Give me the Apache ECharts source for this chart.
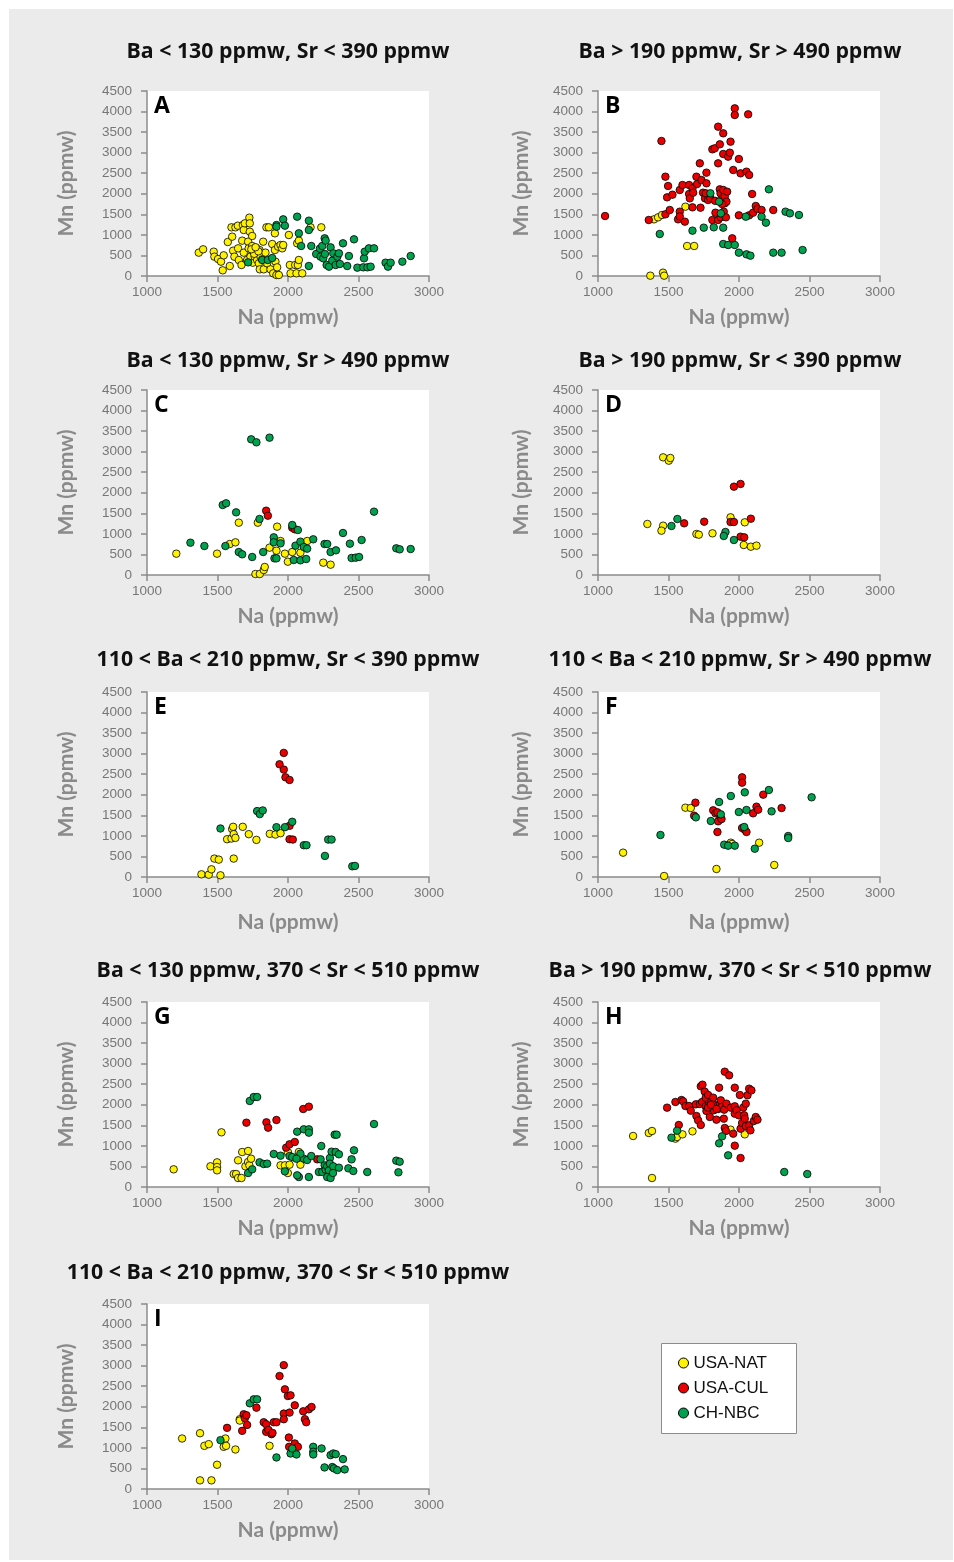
<!DOCTYPE html>
<html><head><meta charset="utf-8">
<script src="https://cdn.jsdelivr.net/npm/echarts@6/dist/echarts.min.js"></script>
<style>
html,body{margin:0;padding:0;background:#fff;}
#bg{position:absolute;left:9px;top:9px;width:944px;height:1551px;background:#ebebeb;}
#chart{position:absolute;left:0;top:0;width:954px;height:1562px;}
</style></head><body><div id="bg"></div><div id="chart"></div>
<script>
// ---------- DATA ----------
const groups = ['USA-NAT', 'USA-CUL', 'CH-NBC'];
const xTicks = [1000, 1500, 2000, 2500, 3000];
const yTicks = [0, 500, 1000, 1500, 2000, 2500, 3000, 3500, 4000, 4500];
const panelLetters = ['A','B','C','D','E','F','G','H','I'];
const panelTitles = [
  'Ba < 130 ppmw, Sr < 390 ppmw',
  'Ba > 190 ppmw, Sr > 490 ppmw',
  'Ba < 130 ppmw, Sr > 490 ppmw',
  'Ba > 190 ppmw, Sr < 390 ppmw',
  '110 < Ba < 210 ppmw, Sr < 390 ppmw',
  '110 < Ba < 210 ppmw, Sr > 490 ppmw',
  'Ba < 130 ppmw, 370 < Sr < 510 ppmw',
  'Ba > 190 ppmw, 370 < Sr < 510 ppmw',
  '110 < Ba < 210 ppmw, 370 < Sr < 510 ppmw'
];

const A_NAT = [[1367,568],[1398,649],[1473,592],[1478,470],[1504,413],[1525,349],[1544,503],[1537,138],[1587,243],[1573,827],[1604,957],[1599,1184],[1627,1184],[1611,616],[1620,470],[1646,673],[1644,1224],[1651,389],[1670,268],[1675,860],[1680,1240],[1686,1119],[1686,568],[1694,1281],[1710,389],[1717,835],[1721,673],[1726,1419],[1729,1281],[1729,1078],[1734,470],[1746,730],[1746,973],[1750,324],[1757,592],[1764,470],[1776,673],[1781,389],[1793,308],[1798,632],[1800,162],[1805,470],[1817,405],[1824,835],[1828,162],[1840,568],[1847,1184],[1852,308],[1864,1184],[1876,162],[1888,778],[1895,65],[1907,1038],[1907,632],[1911,349],[1918,24],[1923,211],[1935,24],[1930,714],[1947,754],[1959,673],[1966,754],[2006,997],[2013,268],[2018,65],[2051,268],[2060,65],[2070,268],[2077,389],[2065,795],[2077,860],[2101,65],[2160,1184],[2236,1184],[1760,540],[1790,600],[1740,650],[1770,700]];
const A_CUL = [];
const A_NBC = [[1717,332],[1817,389],[1857,389],[1888,438],[1918,1240],[1918,1200],[1966,1378],[1978,1224],[2065,1443],[2077,1038],[2093,730],[2148,1346],[2148,1119],[2148,243],[2165,730],[2200,535],[2226,665],[2231,470],[2243,730],[2250,430],[2260,916],[2267,860],[2262,535],[2274,268],[2291,227],[2302,697],[2314,373],[2321,551],[2338,268],[2350,470],[2361,551],[2368,292],[2390,795],[2420,243],[2432,486],[2468,892],[2492,203],[2534,211],[2539,430],[2544,592],[2563,211],[2574,673],[2586,227],[2610,673],[2692,324],[2709,227],[2728,324],[2811,349],[2870,486]];

const B_NAT = [[1371,8],[1397,1378],[1426,1427],[1454,1484],[1461,81],[1469,8],[1620,1686],[1632,730],[1682,730]];
const B_CUL = [[1050,1459],[1360,1362],[1450,3284],[1478,2416],[1478,1500],[1497,2189],[1490,1913],[1509,1605],[1528,1978],[1580,2092],[1599,2213],[1580,1565],[1568,1378],[1616,1322],[1646,2213],[1646,1995],[1651,1889],[1670,2132],[1675,2027],[1670,1670],[1698,2416],[1703,2238],[1722,2741],[1734,2335],[1727,1662],[1745,2027],[1759,1889],[1764,2011],[1769,2254],[1769,2514],[1781,1849],[1797,1889],[1811,1362],[1811,3081],[1828,3105],[1833,1540],[1852,3632],[1852,2741],[1852,1362],[1864,3203],[1864,2108],[1869,2011],[1871,1427],[1881,1889],[1888,3470],[1888,2968],[1888,2092],[1892,1565],[1899,1930],[1899,1768],[1907,1427],[1916,2051],[1911,1808],[1923,2903],[1935,3000],[1940,3268],[1952,916],[1959,2578],[1970,4078],[1970,3916],[1999,2846],[1999,1476],[2011,2497],[2053,2538],[2065,3932],[2072,2457],[2072,1476],[2093,1995],[2100,1540],[2119,1703],[2131,1630],[2160,1605],[2243,1605],[1580,1450],[1880,1750],[1830,1830]];
const B_NBC = [[1438,1022],[1670,1103],[1750,1176],[1797,2011],[1821,1184],[1859,1808],[1871,1524],[1888,1176],[1888,778],[1923,754],[1970,754],[1999,568],[2048,1443],[2053,527],[2081,495],[2160,1443],[2191,1297],[2212,2108],[2243,568],[2302,568],[2330,1565],[2361,1524],[2425,1484],[2451,632]];

const C_NAT = [[1208,519],[1497,519],[1587,754],[1627,795],[1651,1273],[1769,24],[1786,1273],[1800,24],[1828,122],[1835,195],[1869,665],[1923,1176],[1918,592],[1947,827],[1978,519],[1999,324],[2030,559],[2088,543],[2136,827],[2250,300],[2302,251]];
const C_CUL = [[1845,1565],[1857,1443],[2030,1151],[2048,1111]];
const C_NBC = [[1308,786],[1407,705],[1537,1703],[1561,1743],[1556,705],[1632,1524],[1651,559],[1675,503],[1746,438],[1739,3300],[1776,3227],[1798,1362],[1824,559],[1869,3341],[1899,916],[1899,795],[1904,405],[1918,405],[1947,770],[2030,1216],[2041,365],[2053,714],[2070,1095],[2088,811],[2088,357],[2112,681],[2129,389],[2136,641],[2179,868],[2259,754],[2278,754],[2302,559],[2340,600],[2390,1022],[2439,762],[2451,414],[2480,422],[2504,438],[2522,851],[2610,1541],[2768,649],[2792,624],[2870,632]];

const D_NAT = [[1350,1241],[1462,2862],[1502,2781],[1513,2846],[1462,1200],[1450,1078],[1698,997],[1715,981],[1812,1014],[1940,1403],[2041,1281],[2034,730],[2084,689],[2124,714]];
const D_CUL = [[1611,1257],[1753,1297],[1940,1289],[1964,1289],[1964,2149],[2011,2214],[2011,932],[2037,916],[2084,1370]];
const D_NBC = [[1563,1362],[1521,1192],[1904,1046],[1892,949],[1964,851]];

const E_NAT = [[1386,65],[1438,57],[1457,187],[1478,448],[1509,423],[1521,41],[1568,919],[1599,936],[1604,1164],[1611,1221],[1615,1042],[1627,952],[1615,448],[1679,1221],[1722,1042],[1776,903],[1871,1050],[1911,1033],[1947,1066]];
const E_CUL = [[1970,3019],[1940,2742],[1970,2612],[1982,2425],[2011,2360],[2011,1245],[2011,919],[2034,911]];
const E_NBC = [[1521,1180],[1781,1603],[1800,1530],[1821,1619],[1918,1212],[1978,1212],[2030,1343],[2112,773],[2131,773],[2285,911],[2309,911],[2262,513],[2456,260],[2475,269]];

const F_NAT = [[1178,592],[1469,24],[1620,1686],[1658,1678],[1840,195],[1942,835],[1951,803],[2143,835],[2250,292]];
const F_CUL = [[1691,1808],[1682,1492],[1817,1622],[1833,1549],[1847,1573],[1864,1395],[1852,1354],[1876,1411],[1847,1095],[2022,2424],[2022,2295],[2022,1192],[2041,1151],[2053,1095],[2100,1549],[2124,1711],[2136,1638],[2172,2003],[2302,1678]];
const F_NBC = [[1443,1022],[1694,1451],[1800,1362],[1859,1824],[1871,1524],[1942,1970],[1895,787],[1923,762],[1970,762],[1999,1581],[2037,1216],[2041,2059],[2053,1630],[2112,689],[2212,2116],[2231,1597],[2349,997],[2349,949],[2515,1938]];

const G_NAT = [[1189,430],[1450,503],[1497,600],[1497,486],[1497,405],[1528,1330],[1615,316],[1632,316],[1646,219],[1670,219],[1646,649],[1675,851],[1698,503],[1717,876],[1717,608],[1726,527],[1738,689],[1947,527],[1978,527],[1999,340],[2011,543],[1999,851],[2077,851],[2088,543]];
const G_CUL = [[1705,1565],[1847,1573],[1859,1443],[1918,1630],[1987,957],[2011,1038],[2048,1095],[2108,1897],[2148,1954],[2207,673]];
const G_NBC = [[1717,340],[1746,430],[1729,2092],[1757,2189],[1781,2189],[1798,600],[1828,559],[1852,568],[1899,803],[1947,762],[2011,754],[2030,730],[1978,381],[2065,1346],[2077,243],[2065,284],[2112,1403],[2148,1403],[2148,1322],[2148,243],[2112,689],[2136,657],[2165,754],[2088,811],[2060,689],[2236,997],[2231,673],[2219,365],[2243,365],[2260,527],[2267,422],[2278,503],[2290,405],[2278,243],[2302,219],[2297,705],[2309,859],[2297,568],[2321,503],[2319,340],[2331,1273],[2345,1273],[2338,851],[2361,795],[2361,470],[2428,454],[2451,673],[2463,389],[2468,892],[2562,365],[2610,1532],[2768,641],[2792,616],[2783,357]];

const H_NAT = [[1249,1241],[1360,1314],[1383,1362],[1383,219],[1549,1176],[1561,1216],[1599,1281],[1670,1354],[1940,1395],[2041,1281]];
const H_CUL = [[1490,1930],[1549,2068],[1573,1508],[1592,2116],[1604,2084],[1620,1970],[1646,1970],[1658,1857],[1694,2011],[1698,1727],[1710,1622],[1722,2019],[1729,1508],[1729,2449],[1741,2489],[1738,2068],[1757,2319],[1764,2173],[1764,1962],[1769,1849],[1781,2238],[1786,1987],[1793,1703],[1805,2092],[1817,2173],[1821,1865],[1828,1987],[1840,1638],[1852,1897],[1859,2416],[1864,2027],[1871,2108],[1876,1946],[1892,1662],[1895,1881],[1899,1435],[1899,2805],[1911,2027],[1907,1362],[1930,2716],[1942,1930],[1959,1297],[1970,2416],[1970,1962],[1970,1784],[1970,1005],[1982,1865],[1999,1743],[2006,2238],[2011,1419],[2011,705],[2022,1557],[2030,1930],[2037,1743],[2041,1662],[2048,1484],[2048,2027],[2060,2230],[2072,2392],[2072,1500],[2081,1378],[2088,2351],[2105,1605],[2119,1703],[2131,1638],[1780,1930],[1800,2000],[1840,1900]];
const H_NBC = [[1521,1200],[1561,1370],[1880,1232],[1859,1062],[1923,770],[2321,365],[2484,316]];

const I_NAT = [[1249,1228],[1376,1357],[1376,210],[1407,1050],[1438,1091],[1457,210],[1497,590],[1556,1228],[1544,1026],[1561,1050],[1627,961],[1658,1697],[1658,1664],[1869,1050]];
const I_CUL = [[1568,1487],[1675,1414],[1686,1818],[1694,1721],[1705,1794],[1710,1559],[1776,1979],[1828,1624],[1845,1575],[1845,1390],[1861,1438],[1883,1333],[1890,1365],[1899,1624],[1918,1624],[1940,2747],[1970,3013],[1970,1834],[1970,1697],[1978,2424],[1999,2262],[2018,2278],[2011,1858],[2006,1252],[2008,1026],[2048,2036],[2048,1107],[2070,1026],[2108,1890],[2120,1697],[2129,1624],[2148,1939],[2167,1995]];
const I_NBC = [[1521,1188],[1729,2084],[1757,2181],[1781,2181],[1918,768],[2018,864],[2030,986],[2060,840],[2179,1026],[2179,905],[2179,840],[2238,986],[2259,525],[2302,824],[2314,533],[2321,864],[2338,848],[2326,501],[2349,460],[2390,727],[2402,477]];

const panelData = [
  [A_NAT, A_CUL, A_NBC], [B_NAT, B_CUL, B_NBC], [C_NAT, C_CUL, C_NBC],
  [D_NAT, D_CUL, D_NBC], [E_NAT, E_CUL, E_NBC], [F_NAT, F_CUL, F_NBC],
  [G_NAT, G_CUL, G_NBC], [H_NAT, H_CUL, H_NBC], [I_NAT, I_CUL, I_NBC]
];

// ---------- LAYOUT / STYLE ----------
const colors = ['#fff200', '#ea0000', '#00a24f'];
const colLeft = [147, 598];
const rowTop = [91, 390, 692, 1002, 1304];
const titleY = [52, 361, 660, 971, 1273];
const xNameGap = [31, 31, 35, 31, 31];
const plotW = 282, plotH = 185;
const titleFont = '"Open Sans", Lato, sans-serif';
const nameFont = 'Lato, "Open Sans", sans-serif';
const tickFont = '"Liberation Sans", Arial, sans-serif';

const grids = [], xAxes = [], yAxes = [], series = [], graphics = [];
panelData.forEach((pd, i) => {
  const col = i % 2, row = Math.floor(i / 2);
  const left = colLeft[col], top = rowTop[row];
  grids.push({left: left, top: top, width: plotW, height: plotH, show: true,
    backgroundColor: '#ffffff', borderWidth: 0});
  xAxes.push({gridIndex: i, type: 'value', min: xTicks[0], max: xTicks[xTicks.length - 1], interval: 500,
    name: 'Na (ppmw)', nameLocation: 'middle', nameGap: xNameGap[row],
    nameTextStyle: {fontFamily: nameFont, fontWeight: 'bold', fontSize: 21, color: '#8a8a8a'},
    axisLine: {show: true, onZero: false, lineStyle: {color: '#8c8c8c', width: 1.5}},
    axisTick: {show: true, length: 6, lineStyle: {color: '#8c8c8c', width: 1.5}},
    axisLabel: {color: '#777', fontFamily: tickFont, fontSize: 13.5, margin: 9,
      showMinLabel: true, showMaxLabel: true, formatter: v => String(v)},
    splitLine: {show: false}});
  yAxes.push({gridIndex: i, type: 'value', min: yTicks[0], max: yTicks[yTicks.length - 1], interval: 500,
    name: 'Mn (ppmw)', nameLocation: 'middle', nameRotate: 90, nameGap: col === 0 ? 70 : 66,
    nameTextStyle: {fontFamily: nameFont, fontWeight: 'bold', fontSize: 21, color: '#8a8a8a'},
    axisLine: {show: true, onZero: false, lineStyle: {color: '#8c8c8c', width: 1.5}},
    axisTick: {show: true, length: 6, lineStyle: {color: '#8c8c8c', width: 1.5}},
    axisLabel: {color: '#777', fontFamily: tickFont, fontSize: 13.5, margin: 15,
      showMinLabel: true, showMaxLabel: true, formatter: v => String(v)},
    splitLine: {show: false}});
  pd.forEach((arr, g) => {
    series.push({type: 'scatter', name: groups[g], xAxisIndex: i, yAxisIndex: i,
      data: arr, symbol: 'circle', symbolSize: 7.5,
      itemStyle: {color: colors[g], borderColor: '#000', borderWidth: 0.8, opacity: 1},
      emphasis: {disabled: true}, animation: false});
  });
  graphics.push({type: 'text', x: col === 0 ? 288 : 740, y: titleY[row],
    style: {text: panelTitles[i], font: 'bold 21.3px ' + titleFont, fill: '#111',
      align: 'center', verticalAlign: 'middle'}});
  graphics.push({type: 'text', x: left + 7, y: top + 4,
    style: {text: panelLetters[i], font: 'bold 23px ' + titleFont, fill: '#000',
      align: 'left', verticalAlign: 'top'}});
});
graphics.push({type: 'rect', shape: {x: 661.5, y: 1343.5, width: 135, height: 90},
  style: {fill: '#ffffff', stroke: '#8c8c8c', lineWidth: 1}, z: -1});

const chart = echarts.init(document.getElementById('chart'), null, {renderer: 'canvas'});
chart.setOption({
  backgroundColor: 'transparent',
  animation: false,
  grid: grids, xAxis: xAxes, yAxis: yAxes, series: series,
  graphic: graphics,
  legend: {data: groups, orient: 'vertical', left: 678, top: 1353, padding: 0, icon: 'circle',
    itemWidth: 10, itemHeight: 10, itemGap: 5, selectedMode: false,
    textStyle: {fontFamily: tickFont, fontSize: 17, color: '#111', lineHeight: 20},
    itemStyle: {borderColor: '#000', borderWidth: 1}, z: 10}
});
</script></body></html>
